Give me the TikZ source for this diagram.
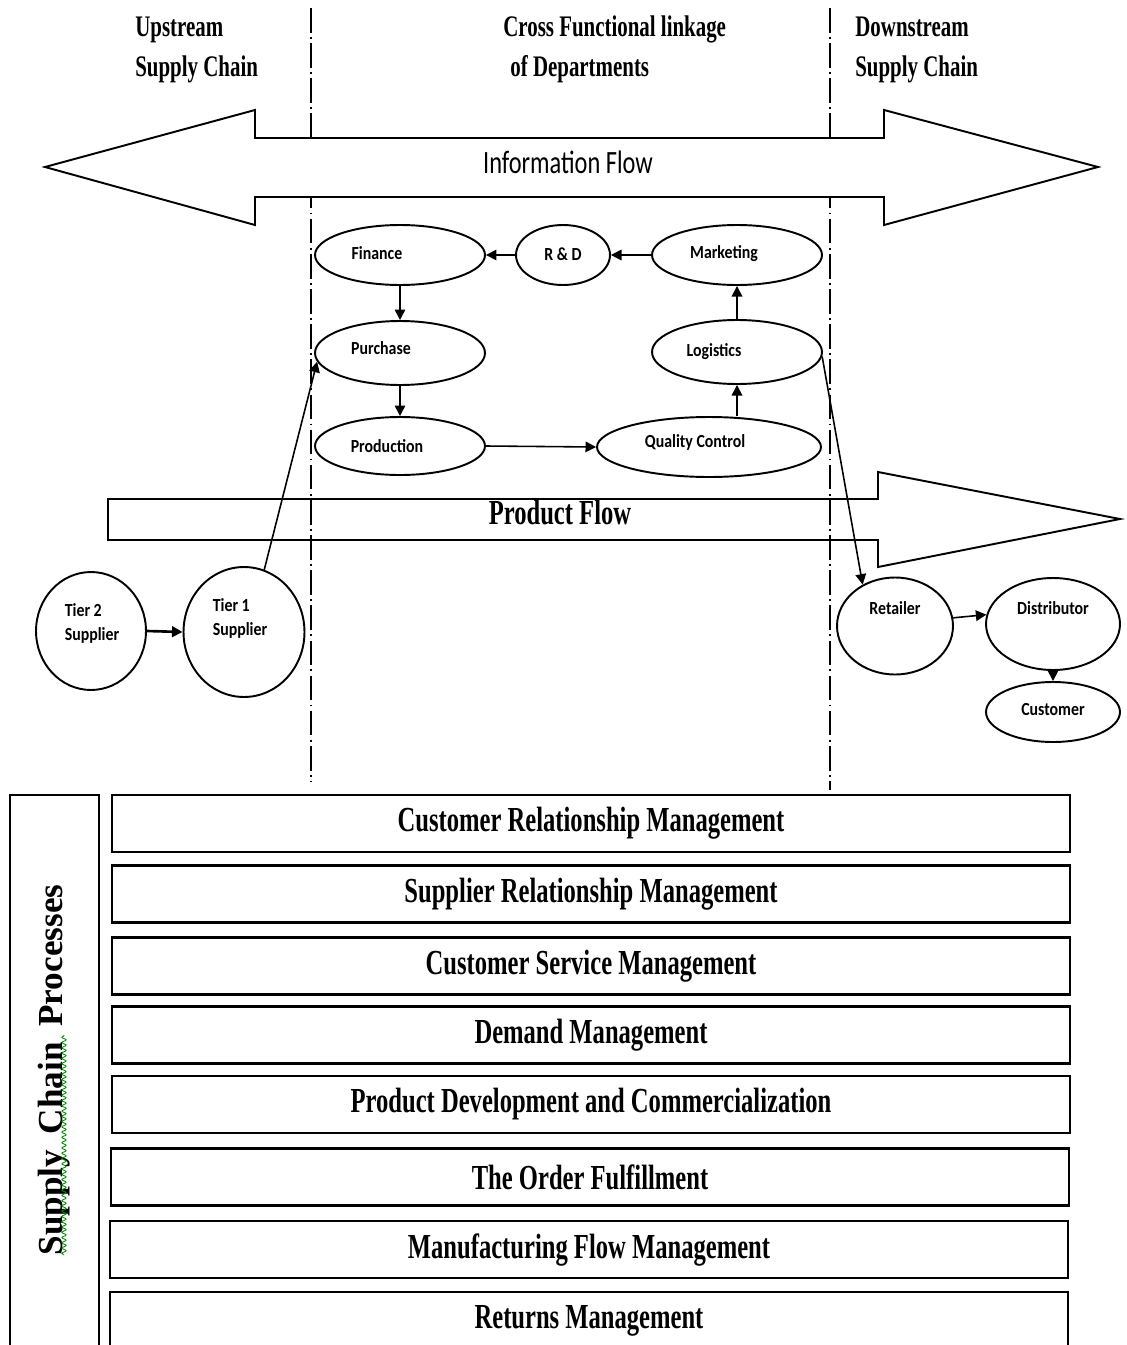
\documentclass[tikz,border=0pt]{standalone}
\usepackage{fontspec}
\newfontfamily\condserif[FakeStretch=0.7]{Liberation Serif}
\newfontfamily\plainserif{Liberation Serif}
\newfontfamily\condsans[FakeStretch=0.75]{Carlito}
\newfontfamily\smallsans[FakeStretch=0.86]{Carlito}
\usetikzlibrary{arrows.meta,shapes.geometric,decorations.pathmorphing}

\begin{document}
\begin{tikzpicture}[x=0.02cm,y=-0.02cm,
  dept/.style={ellipse,draw,line width=1.1pt,fill=white,inner sep=0},
  lbl/.style={font=\smallsans\bfseries\fontsize{10.5}{14}\selectfont,inner sep=0,align=left},
  arr/.style={-{Triangle[length=6pt,width=6pt]},line width=0.9pt},
  divider/.style={line width=0.7pt,dash pattern=on 14pt off 2.5pt on 1pt off 2.5pt},
  bigarrow/.style={draw,line width=1.1pt,line join=miter},
  head/.style={font=\condserif\bfseries\fontsize{17}{20}\selectfont,inner sep=0,anchor=base west},
  proc/.style={draw,line width=1.2pt,minimum width=19.16cm,minimum height=1.14cm,
    inner sep=0,font=\condserif\bfseries\fontsize{20}{24}\selectfont},
]
\useasboundingbox (0,0) rectangle (1126,1345);

% column dividers
\draw[divider] (311,8) -- (311,782);
\draw[divider] (830,8) -- (830,790);

% column headings
\node[head] (up1) at (135,37) {Upstream};
\node[head] (up2) at (135,77) {Supply Chain};
\node[head] (cf1) at (503,37) {Cross Functional linkage};
\node[head] (cf2) at (510,77) {of Departments};
\node[head] (dn1) at (855,37) {Downstream};
\node[head] (dn2) at (855,77) {Supply Chain};

% information flow (two-headed block arrow)
\draw[bigarrow,fill=white] (45,167) -- (255,110) -- (255,138) -- (884,138) -- (884,110)
  -- (1098,167) -- (884,225) -- (884,197) -- (255,197) -- (255,225) -- cycle;
\node[font=\condsans\fontsize{18.5}{22}\selectfont,inner sep=0] (info) at (568,162) {Information Flow};

% product flow (block arrow)
\draw[bigarrow] (108,499) -- (878,499) -- (878,472) -- (1120,519) -- (878,567)
  -- (878,540) -- (108,540) -- cycle;
\node[font=\condserif\bfseries\fontsize{20}{24}\selectfont,inner sep=0] (prodflow) at (560,513) {Product Flow};

% departments
\node[dept,minimum width=3.4cm,minimum height=1.2cm,
  label={[lbl,xshift=-0.46cm,yshift=0.04cm]center:Finance}] (fin) at (400,255) {};
\node[dept,minimum width=1.88cm,minimum height=1.2cm,
  label={[lbl,yshift=0.02cm]center:R \& D}] (rd) at (563,255) {};
\node[dept,minimum width=3.4cm,minimum height=1.2cm,
  label={[lbl,xshift=-0.26cm,yshift=0.02cm]center:Marketing}] (mkt) at (737,255) {};
\node[dept,minimum width=3.4cm,minimum height=1.28cm,
  label={[lbl,xshift=-0.38cm,yshift=0.1cm]center:Purchase}] (pur) at (400,353) {};
\node[dept,minimum width=3.4cm,minimum height=1.28cm,
  label={[lbl,xshift=-0.46cm]center:Logistics}] (log) at (737,352) {};
\node[dept,minimum width=3.4cm,minimum height=1.16cm,
  label={[lbl,xshift=-0.26cm]center:Production}] (prod) at (400,446) {};
\node[dept,minimum width=4.48cm,minimum height=1.2cm,
  label={[lbl,xshift=-0.28cm,yshift=0.1cm]center:Quality Control}] (qc) at (709,447) {};

% upstream suppliers
\node[dept,minimum width=2.2cm,minimum height=2.36cm,
  label={[lbl,xshift=0.02cm,yshift=0.15cm]center:Tier 2\\Supplier}] (t2) at (91,631) {};
\node[dept,minimum width=2.42cm,minimum height=2.6cm,
  label={[lbl,xshift=-0.08cm,yshift=0.27cm]center:Tier 1\\Supplier}] (t1) at (244,632) {};

% downstream partners
\node[dept,minimum width=2.32cm,minimum height=1.94cm,
  label={[lbl,yshift=0.36cm]center:Retailer}] (ret) at (895,626) {};
\node[dept,minimum width=2.68cm,minimum height=1.84cm,
  label={[lbl,yshift=0.32cm]center:Distributor}] (dis) at (1053,624) {};
\node[dept,minimum width=2.68cm,minimum height=1.2cm,
  label={[lbl,yshift=0.04cm]center:Customer}] (cus) at (1053,712) {};

% connectors
\draw[arr] (mkt.west) -- (rd.east);
\draw[arr] (rd.west) -- (fin.east);
\draw[arr] (fin.south) -- (pur.north);
\draw[arr] (pur.south) -- (prod.north);
\draw[arr] (prod.east) -- (qc.west);
\draw[arr] (qc.north -| log.south) -- (log.south);
\draw[arr] (log.north) -- (mkt.south);
\draw[arr] (t1.72) -- (pur.186);
\draw[arr] (log.-3) -- (ret.128);
\draw[arr,line width=1.5pt] (t2.east) -- (t1.west);
\draw[arr] (ret.8) -- (dis.172);
\draw[arr] (dis.south) -- (cus.north);

% supply chain processes
\node[draw,line width=1.2pt,minimum width=1.78cm,minimum height=11.3cm,inner sep=0] (side) at (54.5,1077.5) {};
\node[rotate=90,font=\plainserif\bfseries\fontsize{20}{24}\selectfont,inner sep=0] (scp) at (54,1070)
  {Supply\hspace{0.45em}Chain\hspace{0.45em}Processes};
\draw[green!55!black,line width=0.5pt,decorate,decoration={snake,amplitude=1.2pt,segment length=3pt}]
  (64,1255) -- (64,1035);

\node[proc] (p1) at (591,823.5) {Customer Relationship Management};
\node[proc] (p2) at (591,894) {Supplier Relationship Management};
\node[proc] (p3) at (591,966) {Customer Service Management};
\node[proc] (p4) at (591,1035) {Demand Management};
\node[proc] (p5) at (591,1104.5) {Product Development and Commercialization};
\node[proc] (p6) at (590,1177) {The Order Fulfillment};
\node[proc] (p7) at (589,1249.5) {Manufacturing Flow Management};
\node[proc] (p8) at (589,1320.5) {Returns Management};
\end{tikzpicture}
\end{document}
